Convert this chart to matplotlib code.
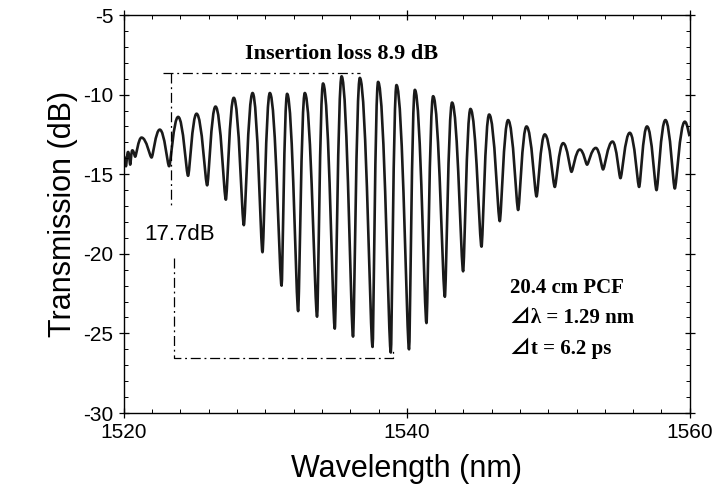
import matplotlib
matplotlib.use("Agg")
import matplotlib.pyplot as plt
from matplotlib.ticker import MultipleLocator
from matplotlib.path import Path
from matplotlib.patches import PathPatch

# fringe extrema (nm, dB)
wavelength = [1520.0, 1520.15, 1520.3, 1520.45, 1520.6, 1520.8,
              1521.25, 1521.96, 1522.54, 1523.20, 1523.84, 1524.54, 1525.14, 1525.89,
              1526.48, 1527.21, 1527.77, 1528.48, 1529.10, 1529.80, 1530.32, 1531.15,
              1531.54, 1532.32, 1532.79, 1533.66, 1534.08, 1534.91, 1535.39, 1536.20,
              1536.68, 1537.58, 1537.97, 1538.87, 1539.27, 1540.16, 1540.57, 1541.39,
              1541.86, 1542.69, 1543.20, 1543.98, 1544.50, 1545.28, 1545.82, 1546.57,
              1547.16, 1547.87, 1548.46, 1549.17, 1549.75, 1550.46, 1551.05, 1551.64,
              1552.23, 1552.74, 1553.36, 1553.87, 1554.54, 1555.10, 1555.76, 1556.42,
              1556.98, 1557.65, 1558.28, 1558.94, 1559.65, 1560.0]
transmission = [-13.9, -14.5, -13.6, -14.4, -13.5, -13.9,
                -12.7, -13.95, -12.2, -14.5, -11.4, -15.1, -11.2, -15.7,
                -10.75, -16.6, -10.2, -18.2, -9.9, -19.9, -9.9, -22.0,
                -9.95, -23.6, -9.9, -23.95, -9.3, -24.7, -8.85, -25.2,
                -8.95, -25.85, -9.2, -26.2, -9.4, -26.0, -9.7, -24.35,
                -10.1, -22.7, -10.5, -21.1, -10.9, -19.55, -11.25, -17.95,
                -11.6, -17.25, -12.0, -16.4, -12.5, -15.8, -13.05, -14.85,
                -13.45, -14.4, -13.35, -14.7, -12.95, -15.25, -12.4, -15.8,
                -12.0, -16.0, -11.6, -15.9, -11.7, -12.6]

# bracket marking insertion loss and extinction ratio
top_x = [1522.76, 1536.68]
top_y = [-8.64, -8.64]
left_up_x = [1523.32, 1523.32]
left_up_y = [-8.64, -17.04]
bottom_x = [1523.53, 1523.53, 1538.99, 1538.99]
bottom_y = [-20.26, -26.55, -26.55, -26.0]

plt.rcParams['font.family'] = ['Liberation Sans', 'DejaVu Sans']
plt.rcParams['axes.unicode_minus'] = False

fig = plt.figure(figsize=(7.2, 5.0), dpi=100)
ax = fig.add_axes([0.172, 0.174, 0.786, 0.796])

# bezier through the extrema: rounded tops, sharp dips
n = len(wavelength)
def is_peak(i):
    left = transmission[i - 1] if i > 0 else transmission[i + 1]
    right = transmission[i + 1] if i < n - 1 else transmission[i - 1]
    return transmission[i] >= max(left, right)

verts = [(wavelength[0], transmission[0])]
codes = [Path.MOVETO]
for i in range(n - 1):
    x0, y0 = wavelength[i], transmission[i]
    x1, y1 = wavelength[i + 1], transmission[i + 1]
    dx = x1 - x0
    k0 = 0.5 if is_peak(i) else 0.18
    k1 = 0.5 if is_peak(i + 1) else 0.18
    verts += [(x0 + k0 * dx, y0), (x1 - k1 * dx, y1), (x1, y1)]
    codes += [Path.CURVE4] * 3
ax.add_patch(PathPatch(Path(verts, codes), facecolor='none', edgecolor='#1a1a1a',
                       lw=1.9, joinstyle='round'))

dash = (0, (8, 3, 1.5, 3))
ax.plot(top_x, top_y, color='k', lw=0.9, linestyle=dash)
ax.plot(left_up_x, left_up_y, color='k', lw=0.9, linestyle=dash)
ax.plot(bottom_x, bottom_y, color='k', lw=0.9, linestyle=dash)

serif = ['Liberation Serif', 'DejaVu Serif', 'Noto Sans CJK SC']
ax.text(1535.4, -7.45, 'Insertion loss 8.9 dB', ha='center', va='center',
        fontsize=16, fontweight='bold', family=serif)
ax.text(1523.96, -18.8, '17.7dB', ha='center', va='center', fontsize=16)
ax.text(1547.3, -22.15, '20.4 cm PCF', ha='left', va='center',
        fontsize=15, fontweight='bold', family=serif)
ax.text(1547.3, -24.03, '⊿λ = 1.29 nm', ha='left', va='center',
        fontsize=15, fontweight='bold', family=serif)
ax.text(1547.3, -25.92, '⊿t = 6.2 ps', ha='left', va='center',
        fontsize=15, fontweight='bold', family=serif)

ax.set_xlim(1520, 1560)
ax.set_ylim(-30, -5)
ax.set_xticks([1520, 1540, 1560])
ax.set_yticks([-30, -25, -20, -15, -10, -5])
ax.xaxis.set_minor_locator(MultipleLocator(2))
ax.yaxis.set_minor_locator(MultipleLocator(1))
ax.tick_params(which='major', direction='inout', length=7, width=0.9,
               labelsize=15, top=True, right=True, pad=4)
ax.tick_params(which='minor', direction='in', length=3, width=0.7,
               top=True, right=True)
for s in ax.spines.values():
    s.set_linewidth(1.0)

ax.set_xlabel('Wavelength (nm)', fontsize=22, labelpad=8)
ax.set_ylabel('Transmission (dB)', fontsize=22, labelpad=4)

fig.savefig('out.png', dpi=100)
